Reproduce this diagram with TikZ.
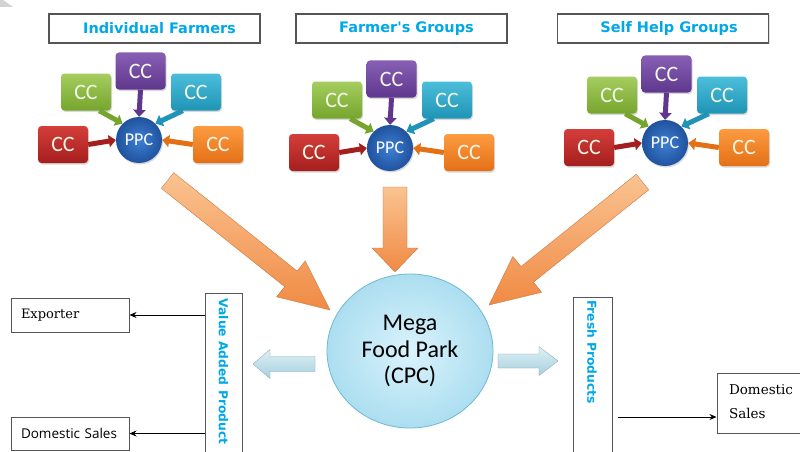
\documentclass[tikz,border=0pt]{standalone}
\usepackage{fontspec}
\setmainfont{Carlito}
\newfontfamily\hdrfont{DejaVu Sans}
\newfontfamily\serfont{DejaVu Serif}
\newfontfamily\segfont{Open Sans}
\usetikzlibrary{arrows.meta,calc,shadows,shapes.geometric}

\definecolor{hdrblue}{RGB}{0,168,232}
\definecolor{boxgray}{RGB}{85,85,85}
\definecolor{greenT}{RGB}{165,205,95}
\definecolor{greenB}{RGB}{118,165,45}
\definecolor{purpT}{RGB}{135,95,180}
\definecolor{purpB}{RGB}{95,55,140}
\definecolor{cyanT}{RGB}{75,190,218}
\definecolor{cyanB}{RGB}{32,148,182}
\definecolor{redT}{RGB}{212,62,58}
\definecolor{redB}{RGB}{165,30,30}
\definecolor{oraT}{RGB}{252,155,65}
\definecolor{oraB}{RGB}{228,112,22}
\definecolor{ppcIn}{RGB}{62,128,212}
\definecolor{ppcOut}{RGB}{32,82,158}
\definecolor{bigT}{RGB}{250,195,145}
\definecolor{bigB}{RGB}{240,138,68}
\definecolor{megaIn}{RGB}{218,243,252}
\definecolor{megaOut}{RGB}{172,222,240}
\definecolor{megaLine}{RGB}{110,185,212}
\definecolor{lbT}{RGB}{222,240,245}
\definecolor{lbB}{RGB}{165,208,222}
\definecolor{cctext}{RGB}{242,246,228}

% block arrow: #1 style, #2 tail, #3 tip, #4 half shaft, #5 half head, #6 head length
\newcommand{\blockarr}[6]{%
  \coordinate (hb) at ($(#3)!#6!(#2)$);
  \path[#1] ($(#2)!#4!90:(#3)$) -- ($(hb)!#4!90:(#3)$) -- ($(hb)!#5!90:(#3)$) -- (#3)
    -- ($(hb)!#5!-90:(#3)$) -- ($(hb)!#4!-90:(#3)$) -- ($(#2)!#4!-90:(#3)$) -- cycle;}

% group of collection centres: #1 prefix, #2 x, #3 y of the PPC
\newcommand{\ccgroup}[3]{%
  \node[ppc] (#1ppc) at (#2,#3) {PPC};
  \node[ccbox, top color=purpT, bottom color=purpB] (#1pu) at ($(#1ppc)+(1.5,-69)$) {CC};
  \node[ccbox, top color=greenT, bottom color=greenB] (#1gr) at ($(#1ppc)+(-53,-48)$) {CC};
  \node[ccbox, top color=cyanT, bottom color=cyanB] (#1cy) at ($(#1ppc)+(57,-48)$) {CC};
  \node[ccbox, top color=redT, bottom color=redB] (#1rd) at ($(#1ppc)+(-76,4.5)$) {CC};
  \node[ccbox, top color=oraT, bottom color=oraB] (#1or) at ($(#1ppc)+(79,4.5)$) {CC};
  \draw[ccarr, purpB] (#1pu.south) -- (#1ppc.north);
  \draw[ccarr, greenB] ([xshift=-12pt]#1gr.south east) -- (#1ppc.135);
  \draw[ccarr, cyanB] ([xshift=12pt]#1cy.south west) -- (#1ppc.45);
  \draw[ccarr, redB] (#1rd.east) -- (#1ppc.west);
  \draw[ccarr, oraB] (#1or.west) -- (#1ppc.east);
}

\begin{document}
\begin{tikzpicture}[x=1pt,y=-1pt,
  topbox/.style={draw=boxgray, line width=1.2pt, fill=white, minimum width=211pt,
    minimum height=29pt, inner sep=0pt, text=hdrblue,
    font=\hdrfont\bfseries\fontsize{14.5}{16}\selectfont,
    drop shadow={opacity=0.25,shadow xshift=1.2pt,shadow yshift=-1.2pt}},
  ccbox/.style={rounded corners=3.5pt, minimum width=50pt, minimum height=37pt,
    inner sep=0pt, text=cctext, font=\fontsize{22}{22}\selectfont,
    drop shadow={opacity=0.3,shadow xshift=1pt,shadow yshift=-1.5pt}},
  ppc/.style={circle, minimum size=46pt, inner sep=0pt, inner color=ppcIn,
    outer color=ppcOut, text=white, font=\fontsize{18}{18}\selectfont,
    drop shadow={opacity=0.3,shadow xshift=1pt,shadow yshift=-1.5pt}},
  ccarr/.style={line width=5pt, -{Triangle[length=7pt,width=12pt]}},
  bigarr/.style={top color=bigT, bottom color=bigB, draw=bigB!80!black, line width=0.3pt},
  lbarr/.style={top color=lbT, bottom color=lbB, draw=lbB!80!black, line width=0.3pt},
  mega/.style={ellipse, minimum width=166pt, minimum height=154pt, inner sep=0pt,
    inner color=megaIn, outer color=megaOut, draw=megaLine, line width=0.8pt,
    align=center, font=\fontsize{24}{26.5}\selectfont},
  outbox/.style={draw=boxgray, line width=1pt, fill=white, inner ysep=0pt},
  vbox/.style={draw=boxgray, line width=1pt, fill=white},
  vtext/.style={text=hdrblue, font=\hdrfont\bfseries\fontsize{12.3}{14}\selectfont, inner sep=0pt},
  conn/.style={line width=0.8pt, -{Stealth[length=7pt,width=6pt]}}
]
\useasboundingbox (0,0) rectangle (800,452);
\fill[white] (0,0) rectangle (800,452);
\fill[gray!35] (0,0) -- (3,0) -- (13,7) -- (0,7) -- cycle;

% top headers
\node[topbox] (hd1) at (154.5,28.5) {\raisebox{-1.5pt}{\hspace*{10pt}Individual Farmers}};
\node[topbox] (hd2) at (401.5,28.5) {\raisebox{-1.5pt}{\hspace*{10pt}Farmer's Groups}};
\node[topbox] (hd3) at (663,28.5) {\raisebox{-1.5pt}{\hspace*{12pt}Self Help Groups}};

% groups
\ccgroup{a}{139}{140}
\ccgroup{b}{390}{148}
\ccgroup{c}{665}{143}

% big orange arrows
\coordinate (t1) at (167.5,180.5); \coordinate (p1) at (330,310);
\coordinate (t2) at (395,187);     \coordinate (p2) at (395,272);
\coordinate (t3) at (642.5,182);   \coordinate (p3) at (489,305);
\blockarr{bigarr}{t1}{p1}{10pt}{23pt}{50pt}
\blockarr{bigarr}{t2}{p2}{12pt}{23pt}{24pt}
\blockarr{bigarr}{t3}{p3}{10pt}{23pt}{49pt}

% mega food park
\node[mega] (mega) at (410,351) {Mega\\Food Park\\(CPC)};

% light blue arrows
\coordinate (lt) at (315,364); \coordinate (lp) at (253,364);
\coordinate (rt) at (498,361); \coordinate (rp) at (558,361);
\blockarr{lbarr}{lt}{lp}{7.5pt}{14.5pt}{17pt}
\blockarr{lbarr}{rt}{rp}{7pt}{14.5pt}{19pt}

% left outputs
\node[vbox, minimum width=37pt, minimum height=167pt] (vap) at (223.5,376.5) {};
\node[vtext, rotate=-90] (vapt) at (223.5,371.5) {Value Added Product};
\node[outbox, text width=98pt, inner xsep=10pt, minimum height=34pt, align=left,
  font=\serfont\fontsize{13}{15}\selectfont] (exp) at (70,315) {Exporter};
\node[outbox, text width=98pt, inner xsep=10pt, minimum height=33pt, align=left,
  font=\segfont\fontsize{13.5}{15}\selectfont] (dom1) at (70,433.5) {Domestic Sales};
\draw[conn] (vap.west |- exp.east) -- (exp.east);
\draw[conn] (vap.west |- dom1.east) -- (dom1.east);

% right outputs
\node[vbox, minimum width=39pt, minimum height=163pt] (fresh) at (592.5,378.5) {};
\node[vtext, rotate=-90] (fresht) at (592,352) {Fresh Products};
\node[outbox, text width=75pt, inner xsep=12pt, minimum height=60pt, align=left,
  font=\serfont\fontsize{13.5}{24}\selectfont] (dom2) at (766.5,403) {\raisebox{2pt}{Domestic}\\\raisebox{2pt}{Sales}};
\coordinate (fa) at (612,417);
\draw[conn, shorten <=6pt] (fa) -- (fa -| dom2.west);
\end{tikzpicture}
\end{document}
